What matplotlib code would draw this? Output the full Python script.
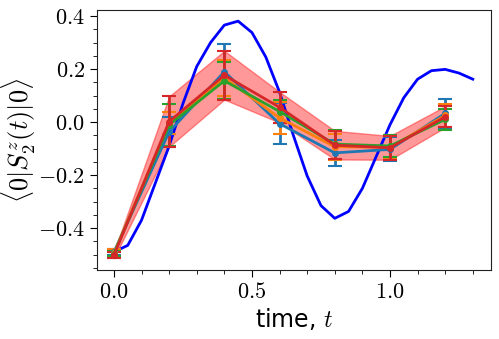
import matplotlib
matplotlib.use("Agg")
import matplotlib.pyplot as plt
import matplotlib.ticker as ticker
import numpy as np

plt.rcParams['mathtext.fontset'] = 'cm'

# exact curve
t_exact = [0.0, 0.05, 0.10, 0.15, 0.20, 0.25, 0.30, 0.35, 0.40, 0.45, 0.50, 0.55, 0.60, 0.65,
           0.70, 0.75, 0.80, 0.85, 0.90, 0.95, 1.00, 1.05, 1.10, 1.15, 1.20, 1.25, 1.30]
s_exact = [-0.49, -0.465, -0.37, -0.23, -0.09, 0.07, 0.21, 0.30, 0.366, 0.381, 0.338, 0.246, 0.113, -0.05,
           -0.203, -0.315, -0.363, -0.337, -0.25, -0.13, -0.01, 0.092, 0.162, 0.194, 0.199, 0.185, 0.162]

# measured runs
t_meas = [0.0, 0.2, 0.4, 0.6, 0.8, 1.0, 1.2]
run_a = [-0.49, -0.037, 0.19, -0.006, -0.116, -0.103, 0.033]
run_b = [-0.495, -0.003, 0.167, 0.016, -0.093, -0.095, 0.025]
run_c = [-0.497, -0.011, 0.156, 0.040, -0.083, -0.090, 0.010]
run_d = [-0.502, 0.002, 0.177, 0.056, -0.087, -0.097, 0.020]
err_a = [0.010, 0.057, 0.104, 0.077, 0.050, 0.045, 0.056]
err_b = [0.018, 0.043, 0.067, 0.060, 0.050, 0.045, 0.045]
err_c = [0.010, 0.079, 0.070, 0.045, 0.055, 0.040, 0.040]
err_d = [0.012, 0.095, 0.092, 0.058, 0.054, 0.045, 0.040]

fig = plt.figure(figsize=(4.99, 3.39), dpi=100)
ax = fig.add_axes([0.194, 0.2035, 0.79, 0.767])

ax.plot(t_exact, s_exact, color='b', lw=2)

lo = np.array(run_d) - np.array(err_d)
hi = np.array(run_d) + np.array(err_d)
ax.fill_between(t_meas, lo, hi, color='red', alpha=0.4, lw=1)

for y, e, c in [(run_a, err_a, 'C0'), (run_b, err_b, 'C1'), (run_c, err_c, 'C2'), (run_d, err_d, 'C3')]:
    ax.errorbar(t_meas, y, yerr=e, color=c, lw=2, marker='o', ms=4, capsize=5, capthick=1.5, elinewidth=2)

ax.set_xlim(-0.062, 1.366)
ax.set_ylim(-0.558, 0.423)
ax.xaxis.set_major_locator(ticker.MultipleLocator(0.5))
ax.xaxis.set_minor_locator(ticker.MultipleLocator(0.1))
ax.yaxis.set_major_locator(ticker.MultipleLocator(0.2))
ax.yaxis.set_minor_locator(ticker.MultipleLocator(0.05))
fmt = ticker.FuncFormatter(lambda v, p: r'$%.1f$' % v if abs(v) > 1e-9 else r'$0.0$')
ax.xaxis.set_major_formatter(fmt)
ax.yaxis.set_major_formatter(fmt)
ax.tick_params(which='major', labelsize=16, length=5)
ax.tick_params(which='minor', length=3)
for s in ax.spines.values():
    s.set_color('#222222')

ax.set_xlabel(r'time, $t$', fontsize=17, labelpad=3)
ax.set_ylabel(r'$\langle \mathbf{0}|S_2^z(t)|\mathbf{0}\rangle$', fontsize=19)
ax.yaxis.set_label_coords(-0.15, 0.5)

fig.savefig('out.png', dpi=100)
